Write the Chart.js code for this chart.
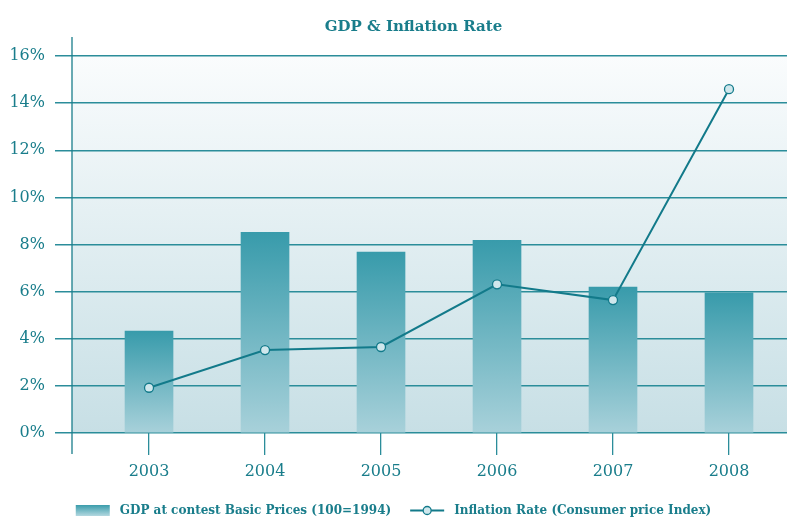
<!DOCTYPE html>
<html>
<head>
<meta charset="utf-8">
<style>
  html, body { margin: 0; padding: 0; background: #ffffff; }
  #wrap { width: 787px; height: 518px; }
</style>
<script src="https://cdn.jsdelivr.net/npm/chart.js@4/dist/chart.umd.min.js"></script>
</head>
<body>
<div id="wrap"><canvas id="c" width="787" height="518"></canvas></div>
<script>
// Years on the horizontal axis
const years = [2003, 2004, 2005, 2006, 2007, 2008];
// GDP at constant basic prices, growth in %
const gdpGrowth = [4.33, 8.52, 7.68, 8.18, 6.19, 5.95];
// Inflation rate (consumer price index), %
const inflation = [1.92, 3.52, 3.65, 6.31, 5.64, 14.59];
// Value axis ticks, %
const yTicks = [0, 2, 4, 6, 8, 10, 12, 14, 16];

const TEAL = '#197d8b';
const GRID = '#2b8d9a';
const FONT = "'DejaVu Serif', serif";

const gdpLabel = 'GDP at contest Basic Prices (100=1994)';
const infLabel = 'Inflation Rate (Consumer price Index)';

// Plot-area wash, the extended value-axis line, the title and the legend
const decor = {
  id: 'decor',
  beforeDraw(chart) {
    const { ctx, chartArea: a } = chart;
    ctx.save();
    const g = ctx.createLinearGradient(0, a.top, 0, a.bottom);
    g.addColorStop(0, '#fafcfd');
    g.addColorStop(1, '#c7dfe5');
    ctx.fillStyle = g;
    ctx.fillRect(a.left, a.top, a.right - a.left, a.bottom - a.top);
    ctx.restore();
  },
  afterDraw(chart) {
    const { ctx, chartArea: a } = chart;
    ctx.save();
    // value axis line, running past the plot at both ends
    ctx.strokeStyle = TEAL;
    ctx.lineWidth = 1.3;
    ctx.beginPath();
    ctx.moveTo(a.left, a.top - 19);
    ctx.lineTo(a.left, a.bottom + 21);
    ctx.stroke();

    // title
    ctx.fillStyle = TEAL;
    ctx.font = "bold 15px " + FONT;
    ctx.textAlign = 'center';
    ctx.textBaseline = 'alphabetic';
    ctx.fillText('GDP & Inflation Rate', 413.5, 30.5);

    // legend: shaded bar swatch + line-with-marker swatch
    ctx.font = "bold 12px " + FONT;
    ctx.textAlign = 'left';
    ctx.textBaseline = 'middle';
    const cy = 510.5;
    const w1 = ctx.measureText(gdpLabel).width;
    const w2 = ctx.measureText(infLabel).width;
    const total = 34 + 10 + w1 + 19 + 34 + 10 + w2;
    let x = (chart.width - total) / 2;

    const gr = ctx.createLinearGradient(0, cy - 5.5, 0, cy + 5.5);
    gr.addColorStop(0, '#3a9cab');
    gr.addColorStop(1, '#b3d8e0');
    ctx.fillStyle = gr;
    ctx.fillRect(x, cy - 5.5, 34, 11);
    x += 44;
    ctx.fillStyle = TEAL;
    ctx.fillText(gdpLabel, x, cy);
    x += w1 + 19;

    ctx.strokeStyle = '#127a8a';
    ctx.lineWidth = 2;
    ctx.beginPath(); ctx.moveTo(x, cy); ctx.lineTo(x + 34, cy); ctx.stroke();
    ctx.beginPath(); ctx.arc(x + 17, cy, 4, 0, Math.PI * 2);
    ctx.fillStyle = '#cfe7ec'; ctx.fill();
    ctx.lineWidth = 1.3; ctx.stroke();
    x += 44;
    ctx.fillStyle = TEAL;
    ctx.fillText(infLabel, x, cy);
    ctx.restore();
  }
};

function barFill(c) {
  const chart = c.chart;
  if (!chart.chartArea || c.type !== 'data') return '#3a9cab';
  const y = chart.scales.y;
  const top = y.getPixelForValue(c.parsed.y);
  const bottom = y.getPixelForValue(0);
  const g = chart.ctx.createLinearGradient(0, top, 0, bottom);
  g.addColorStop(0, '#389bab');
  g.addColorStop(1, '#a8d1da');
  return g;
}

new Chart(document.getElementById('c'), {
  type: 'bar',
  data: {
    datasets: [
      {
        type: 'line',
        label: infLabel,
        data: years.map((yr, i) => ({ x: yr, y: inflation[i] })),
        borderColor: '#127a8a',
        borderWidth: 2,
        pointRadius: 4.5,
        pointBackgroundColor: '#cfe7ec',
        pointBorderColor: '#127a8a',
        pointBorderWidth: 1.3,
        tension: 0,
        order: 0
      },
      {
        type: 'bar',
        label: gdpLabel,
        data: years.map((yr, i) => ({ x: yr, y: gdpGrowth[i] })),
        backgroundColor: barFill,
        barThickness: 48,
        order: 1
      }
    ]
  },
  options: {
    responsive: false,
    animation: false,
    layout: { autoPadding: false, padding: { top: 56, right: 0, left: 0, bottom: 0 } },
    scales: {
      x: {
        type: 'linear',
        offset: false,
        min: 2002.336,
        max: 2008.5,
        afterBuildTicks: s => { s.ticks = years.map(v => ({ value: v })); },
        afterFit: s => { s.height = 85; s.paddingLeft = 0; s.paddingRight = 0; },
        ticks: {
          callback: v => String(v),
          color: TEAL,
          font: { family: FONT, size: 16 },
          padding: 7
        },
        grid: {
          offset: false,
          drawOnChartArea: false,
          drawTicks: true,
          tickLength: 22,
          color: GRID,
          lineWidth: 1.3
        },
        border: { display: false }
      },
      y: {
        min: 0,
        max: 16,
        afterBuildTicks: s => { s.ticks = yTicks.map(v => ({ value: v })); },
        afterFit: s => { s.width = 72; s.paddingLeft = 0; s.paddingRight = 0; },
        ticks: {
          callback: v => v + '%',
          color: TEAL,
          font: { family: FONT, size: 16 },
          padding: 10
        },
        grid: {
          color: GRID,
          lineWidth: 1.5,
          tickLength: 17
        },
        border: { display: false }
      }
    },
    plugins: {
      title: { display: false },
      tooltip: { enabled: false },
      legend: { display: false }
    }
  },
  plugins: [decor]
});
</script>
</body>
</html>
